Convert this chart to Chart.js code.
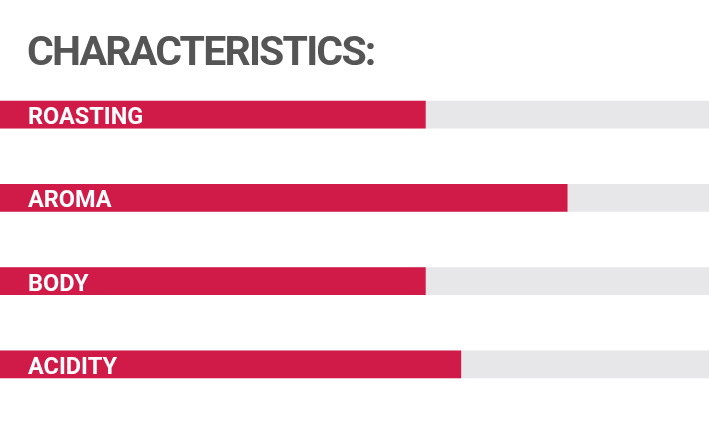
<!DOCTYPE html>
<html>
<head>
<meta charset="utf-8">
<script src="https://cdn.jsdelivr.net/npm/chart.js@4/dist/chart.umd.min.js"></script>
<style>
  body { margin: 0; background: #fff; }
  .wrap { position: relative; width: 709px; height: 425px; }
  .title {
    position: absolute; left: 27px; top: 25px; margin: 0;
    font: 700 41px Roboto, sans-serif; color: #555555; line-height: 52px;
    letter-spacing: -1.8px;
  }
</style>
</head>
<body>
<div class="wrap">
  <h1 class="title">CHARACTERISTICS:</h1>
  <canvas id="chart"></canvas>
</div>
<script>
"use strict";

// Data
const categories = ["ROASTING", "AROMA", "BODY", "ACIDITY"];
const scores = [60, 80, 60, 65];
const trackValues = [100, 100, 100, 100];

const colors = {
  fill: "#d01a47",
  track: "#e7e7e9",
  label: "#ffffff",
};

// Labels drawn inside the bars, on top of them
const barLabels = {
  id: "barLabels",
  afterDatasetsDraw(chart) {
    const ctx = chart.ctx;
    const yScale = chart.scales.y;
    ctx.save();
    ctx.font = "bold 23.5px Roboto";
    ctx.fillStyle = colors.label;
    ctx.textAlign = "left";
    ctx.textBaseline = "alphabetic";
    categories.forEach(function (label, i) {
      ctx.fillText(label, chart.chartArea.left + 28, yScale.getPixelForValue(i) + 9.5);
    });
    ctx.restore();
  },
};

// Chart
const config = {
  type: "bar",
  data: {
    labels: categories,
    datasets: [
      {
        data: scores,
        backgroundColor: colors.fill,
        barThickness: 27,
        grouped: false,
      },
      {
        data: trackValues,
        backgroundColor: colors.track,
        barThickness: 27,
        grouped: false,
      },
    ],
  },
  options: {
    indexAxis: "y",
    responsive: true,
    maintainAspectRatio: false,
    animation: false,
    layout: { padding: { top: 73, bottom: 19, left: 0, right: 0 } },
    plugins: {
      legend: { display: false },
      tooltip: { enabled: false },
    },
    scales: {
      x: { display: false, min: 0, max: 100 },
      y: { display: false },
    },
  },
  plugins: [barLabels],
};

const chart = new Chart(document.getElementById("chart"), config);
</script>
</body>
</html>
